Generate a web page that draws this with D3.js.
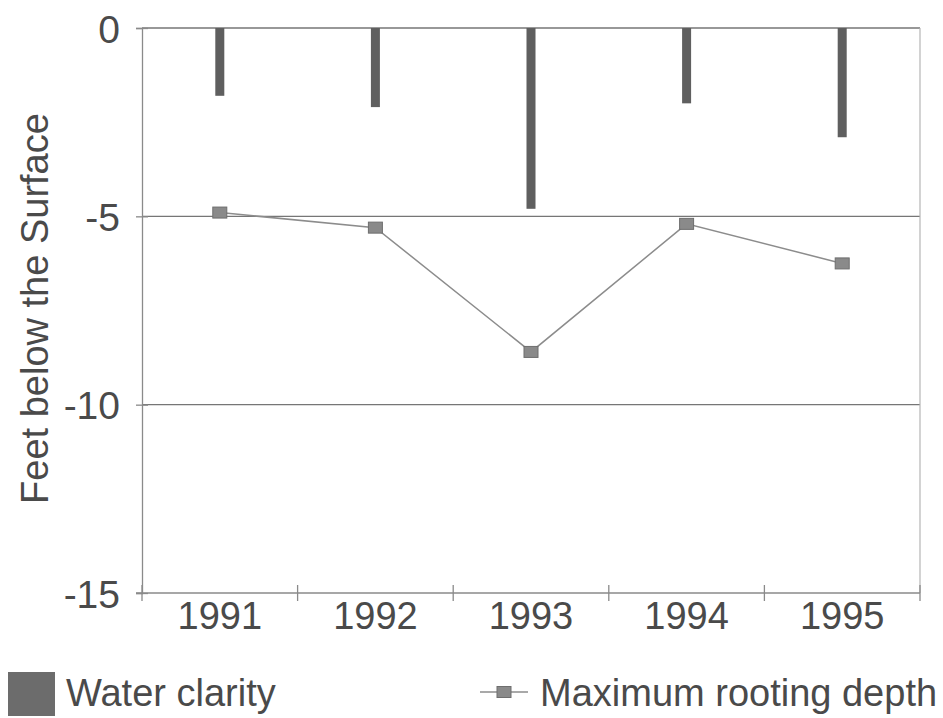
<!DOCTYPE html>
<html>
<head>
<meta charset="utf-8">
<script src="https://cdn.jsdelivr.net/npm/d3@7"></script>
<style>
  html, body { margin: 0; padding: 0; background: #ffffff; }
  svg { display: block; }
  text { font-family: "Liberation Sans", Arial, sans-serif; fill: #4a4a4a; }
</style>
</head>
<body>
<svg id="chart" width="943" height="718"></svg>
<script>
// Years on the category axis
const years = ["1991", "1992", "1993", "1994", "1995"];
// Water clarity (Secchi depth), feet below the surface
const waterClarity = [-1.8, -2.1, -4.8, -2.0, -2.9];
// Maximum rooting depth of plants, feet below the surface
const rootingDepth = [-4.9, -5.3, -8.6, -5.2, -6.25];
// Value axis ticks
const yTicks = [0, -5, -10, -15];
const yTitle = "Feet below the Surface";
const legendLabels = ["Water clarity", "Maximum rooting depth"];

const svg = d3.select("#chart");
const plot = { left: 142, right: 920, top: 28, bottom: 593 };

const x = d3.scaleBand().domain(years).range([plot.left, plot.right]).padding(0);
const y = d3.scaleLinear().domain([-15, 0]).range([plot.bottom, plot.top]);

const gridColor = "#767676";
const axisColor = "#8a8a8a";

// Horizontal gridlines (0, -5, -10)
svg.append("g").selectAll("line")
  .data(yTicks.filter(d => d > -15))
  .join("line")
  .attr("x1", plot.left).attr("x2", plot.right)
  .attr("y1", d => y(d)).attr("y2", d => y(d))
  .attr("stroke", gridColor).attr("stroke-width", 1.3);

// Right frame edge
svg.append("line")
  .attr("x1", plot.right).attr("x2", plot.right)
  .attr("y1", plot.top).attr("y2", plot.bottom)
  .attr("stroke", "#b5b5b5").attr("stroke-width", 1.2);

// Y axis (plain hyphen for negative numbers)
const yAxis = d3.axisLeft(y).tickValues(yTicks).tickSize(6).tickPadding(16)
  .tickFormat(d => String(d));
const gy = svg.append("g").attr("transform", `translate(${plot.left},0)`).call(yAxis);
gy.select(".domain").attr("stroke", axisColor).attr("stroke-width", 1.3);
gy.selectAll(".tick line").attr("stroke", axisColor).attr("stroke-width", 1.3)
  .attr("x1", 6);
gy.selectAll(".tick text")
  .style("font-family", "'Liberation Sans', Arial, sans-serif")
  .style("font-size", "39px").attr("fill", "#4a4a4a").attr("dy", "0.36em");

// X axis with tick marks at category boundaries
const gx = svg.append("g").attr("transform", `translate(0,${plot.bottom})`);
gx.append("line")
  .attr("x1", plot.left - 6).attr("x2", plot.right)
  .attr("y1", 0).attr("y2", 0)
  .attr("stroke", axisColor).attr("stroke-width", 1.3);
const boundaries = years.map(d => x(d)).concat([x(years[years.length - 1]) + x.bandwidth()]);
gx.selectAll("line.bnd")
  .data(boundaries)
  .join("line").attr("class", "bnd")
  .attr("x1", d => d).attr("x2", d => d)
  .attr("y1", -8).attr("y2", 8)
  .attr("stroke", axisColor).attr("stroke-width", 1.3);
gx.selectAll("text")
  .data(years)
  .join("text")
  .attr("x", d => x(d) + x.bandwidth() / 2)
  .attr("y", 36)
  .attr("text-anchor", "middle")
  .style("font-size", "38px")
  .text(d => d);

// Y axis title
svg.append("text")
  .attr("transform", `translate(48,${(plot.top + plot.bottom) / 2 - 2}) rotate(-90)`)
  .attr("text-anchor", "middle")
  .style("font-size", "38px")
  .text(yTitle);

// Water clarity bars hanging down from the surface
const barW = 9;
svg.append("g").selectAll("rect")
  .data(waterClarity)
  .join("rect")
  .attr("x", (d, i) => x(years[i]) + x.bandwidth() / 2 - barW / 2)
  .attr("y", y(0))
  .attr("width", barW)
  .attr("height", d => y(d) - y(0))
  .attr("fill", "#5f5f5f");

// Maximum rooting depth line with square markers
const line = d3.line()
  .x((d, i) => x(years[i]) + x.bandwidth() / 2)
  .y(d => y(d));
svg.append("path")
  .datum(rootingDepth)
  .attr("d", line)
  .attr("fill", "none")
  .attr("stroke", "#8c8c8c")
  .attr("stroke-width", 1.5);

const mW = 14, mH = 11;
svg.append("g").selectAll("rect")
  .data(rootingDepth)
  .join("rect")
  .attr("x", (d, i) => x(years[i]) + x.bandwidth() / 2 - mW / 2)
  .attr("y", d => y(d) - mH / 2)
  .attr("width", mW).attr("height", mH)
  .attr("fill", "#8a8a8a")
  .attr("stroke", "#6e6e6e").attr("stroke-width", 1);

// Legend
const leg = svg.append("g");
leg.append("rect")
  .attr("x", 8).attr("y", 672).attr("width", 47).attr("height", 44)
  .attr("fill", "#6c6c6c");
leg.append("text")
  .attr("x", 66).attr("y", 706)
  .style("font-size", "38px")
  .text(legendLabels[0]);
leg.append("line")
  .attr("x1", 480).attr("x2", 528).attr("y1", 692).attr("y2", 692)
  .attr("stroke", "#8c8c8c").attr("stroke-width", 1.5);
leg.append("rect")
  .attr("x", 504 - mW / 2).attr("y", 692 - mH / 2)
  .attr("width", mW).attr("height", mH)
  .attr("fill", "#8a8a8a").attr("stroke", "#6e6e6e").attr("stroke-width", 1);
leg.append("text")
  .attr("x", 540).attr("y", 706)
  .style("font-size", "38px")
  .text(legendLabels[1]);
</script>
</body>
</html>
